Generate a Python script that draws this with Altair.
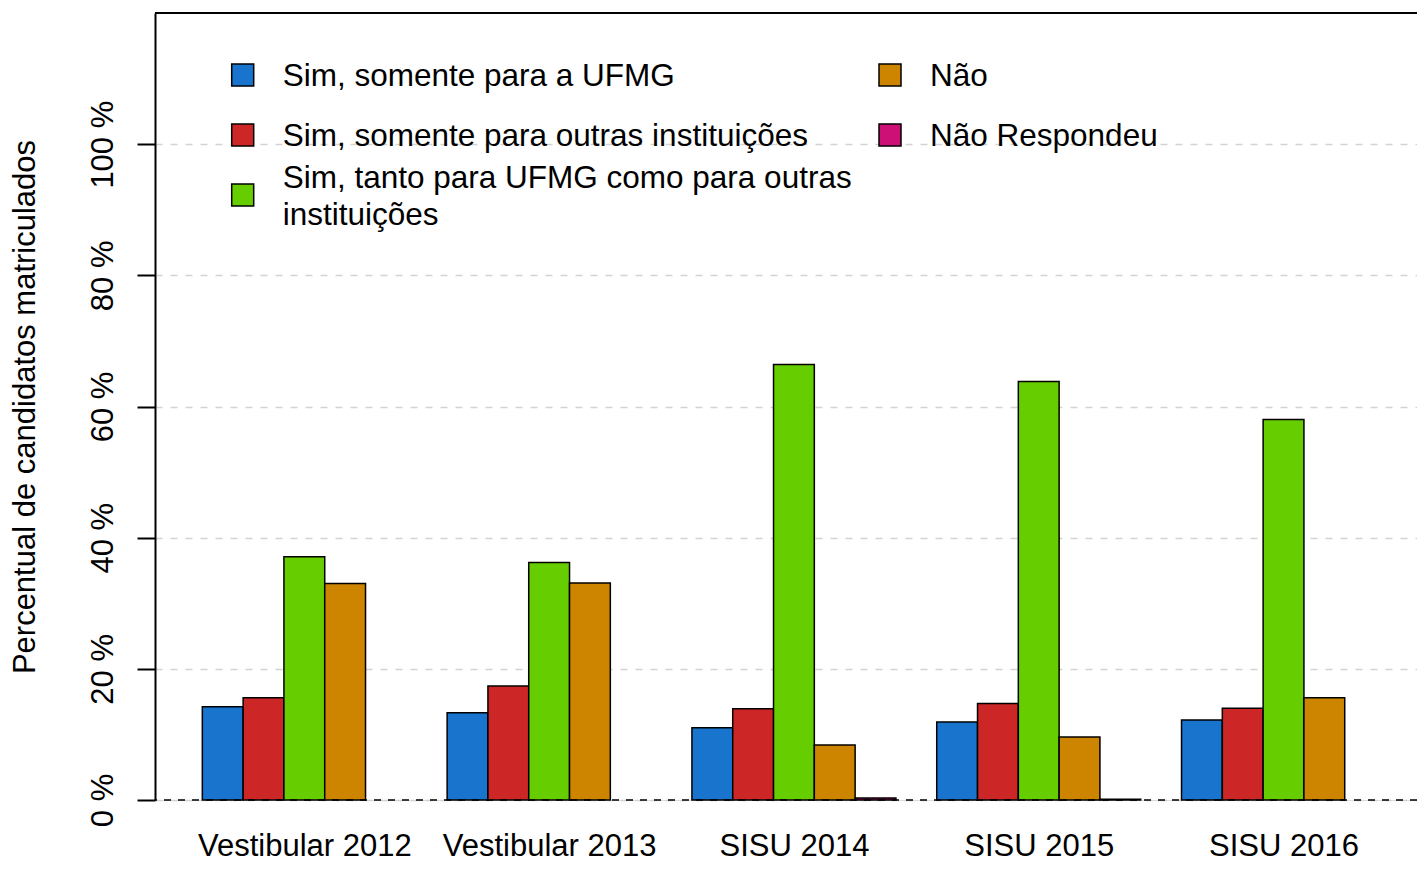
import altair as alt
import pandas as pd

# ---- data ----
groups = ["Vestibular 2012", "Vestibular 2013", "SISU 2014", "SISU 2015", "SISU 2016"]
series = [
    "Sim, somente para a UFMG",
    "Sim, somente para outras instituições",
    "Sim, tanto para UFMG como para outras instituições",
    "Não",
    "Não Respondeu",
]
legend_labels = [
    "Sim, somente para a UFMG",
    "Sim, somente para outras instituições",
    "Sim, tanto para UFMG como para outras\ninstituições",
    "Não",
    "Não Respondeu",
]
legend_col = [0, 0, 0, 1, 1]
legend_row = [0, 1, 2, 0, 1]
colors = ["#1874CD", "#CD2626", "#66CD00", "#CD8500", "#CD1076"]

sim_ufmg = [14.2, 13.3, 11.0, 11.9, 12.2]
sim_outras = [15.6, 17.4, 13.9, 14.7, 14.0]
sim_ambos = [37.1, 36.2, 66.4, 63.8, 58.0]
nao = [33.0, 33.1, 8.4, 9.6, 15.6]
nao_resp = [0.0, 0.0, 0.3, 0.1, 0.0]
y_ticks = [0, 20, 40, 60, 80, 100]

values = [sim_ufmg, sim_outras, sim_ambos, nao, nao_resp]

# barplot-like positions (beside=TRUE, space=c(0,1))
rows = []
for g, grp in enumerate(groups):
    for s, ser in enumerate(series):
        left = g * (len(series) + 1) + 1 + s
        rows.append({"grupo": grp, "serie": ser, "valor": values[s][g],
                     "x0": left, "x1": left + 1})
df = pd.DataFrame(rows)
group_centers = [g * (len(series) + 1) + 1 + len(series) / 2 for g in range(len(groups))]

leg = pd.DataFrame({"serie": series, "label": legend_labels,
                    "col": legend_col, "row": legend_row})
leg["nlines"] = leg["label"].str.count("\n") + 1

FONT = "Liberation Sans"
W, H = 1262, 787
unit = 40.8
x_lo = -0.16
x_hi = x_lo + W / unit

xscale = alt.Scale(domain=[x_lo, x_hi], nice=False, zero=False)
yscale = alt.Scale(domain=[0, 120], nice=False)
color_scale = alt.Scale(domain=series, range=colors)

names_js = "[" + ",".join("'" + g + "'" for g in groups) + "]"

x_axis = alt.Axis(
    values=group_centers,
    labelExpr=f"{names_js}[floor(datum.value / {len(series) + 1})]",
    domain=False, ticks=False, tickSize=0, grid=False,
    labelFontSize=31, labelFont=FONT, labelColor="black", labelLimit=0,
    labelBaseline="alphabetic", labelPadding=55, labelAlign="center",
    labelOverlap=False, labelFlush=False,
    title=None,
)
y_axis = alt.Axis(
    values=y_ticks,
    labelExpr="datum.value + ' %'",
    labelAngle=270, labelAlign="center", labelBaseline="alphabetic",
    labelPadding=25, labelFontSize=31, labelFont=FONT, labelColor="black",
    labelLimit=0,
    tickSize=18, tickColor="black", tickWidth=2,
    domain=True, domainColor="black", domainWidth=2,
    grid=True, gridColor="#D3D3D3", gridDash=[7, 8], gridWidth=1.5,
    title="Percentual de candidatos matriculados",
    titleFontSize=31, titleFont=FONT, titleFontWeight="normal", titleColor="black",
    titleAngle=270, titleAlign="center", titleBaseline="alphabetic",
    titleX=-121, titleY=H / 2, titleLimit=0,
)

bars = alt.Chart(df).transform_filter("datum.valor > 0").mark_rect(
    stroke="black", strokeWidth=1.5
).encode(
    x=alt.X("x0:Q", scale=xscale, axis=x_axis),
    x2="x1:Q",
    y=alt.Y("valor:Q", scale=yscale, axis=y_axis),
    y2=alt.datum(0),
    color=alt.Color("serie:N", scale=color_scale, legend=None),
)

zero_line = alt.Chart().mark_rule(color="black", strokeDash=[7, 7], strokeWidth=1.5).encode(
    y=alt.datum(0)
)
top_line = alt.Chart().mark_rule(color="black", strokeWidth=2).encode(
    y=alt.datum(120)
)

main = alt.layer(bars, zero_line, top_line)

leg_x = alt.Scale(domain=[0, 1], range=[242.7 - 155, 890 - 155])
leg_y = alt.Scale(domain=[0, 2], range=[75 - 13, 195 - 13])

leg_sq = alt.Chart(leg).mark_square(
    size=484, stroke="black", strokeWidth=1.5, opacity=1
).encode(
    x=alt.X("col:Q", scale=leg_x, axis=None),
    y=alt.Y("row:Q", scale=leg_y, axis=None),
    color=alt.Color("serie:N", scale=color_scale, legend=None),
)

LH = 37
def leg_text(n):
    return alt.Chart(leg).transform_filter(f"datum.nlines == {n}").mark_text(
        align="left", baseline="middle", dx=40, dy=2 - (n - 1) * LH / 2,
        fontSize=31.5, font=FONT, lineBreak="\n", lineHeight=LH, color="black",
    ).encode(
        x=alt.X("col:Q", scale=leg_x, axis=None),
        y=alt.Y("row:Q", scale=leg_y, axis=None),
        text="label:N",
    )

legend_layer = alt.layer(leg_sq, leg_text(1), leg_text(2))

chart = alt.layer(main, legend_layer).resolve_scale(
    x="independent", y="independent"
).properties(
    width=W, height=H,
    autosize=alt.AutoSizeParams(type="none"),
    padding={"left": 147, "top": 5, "right": 0, "bottom": 62},
).configure_view(stroke=None).configure(font=FONT, background="white")

chart.save("out.html", embed_options={"renderer": "svg", "actions": False})
